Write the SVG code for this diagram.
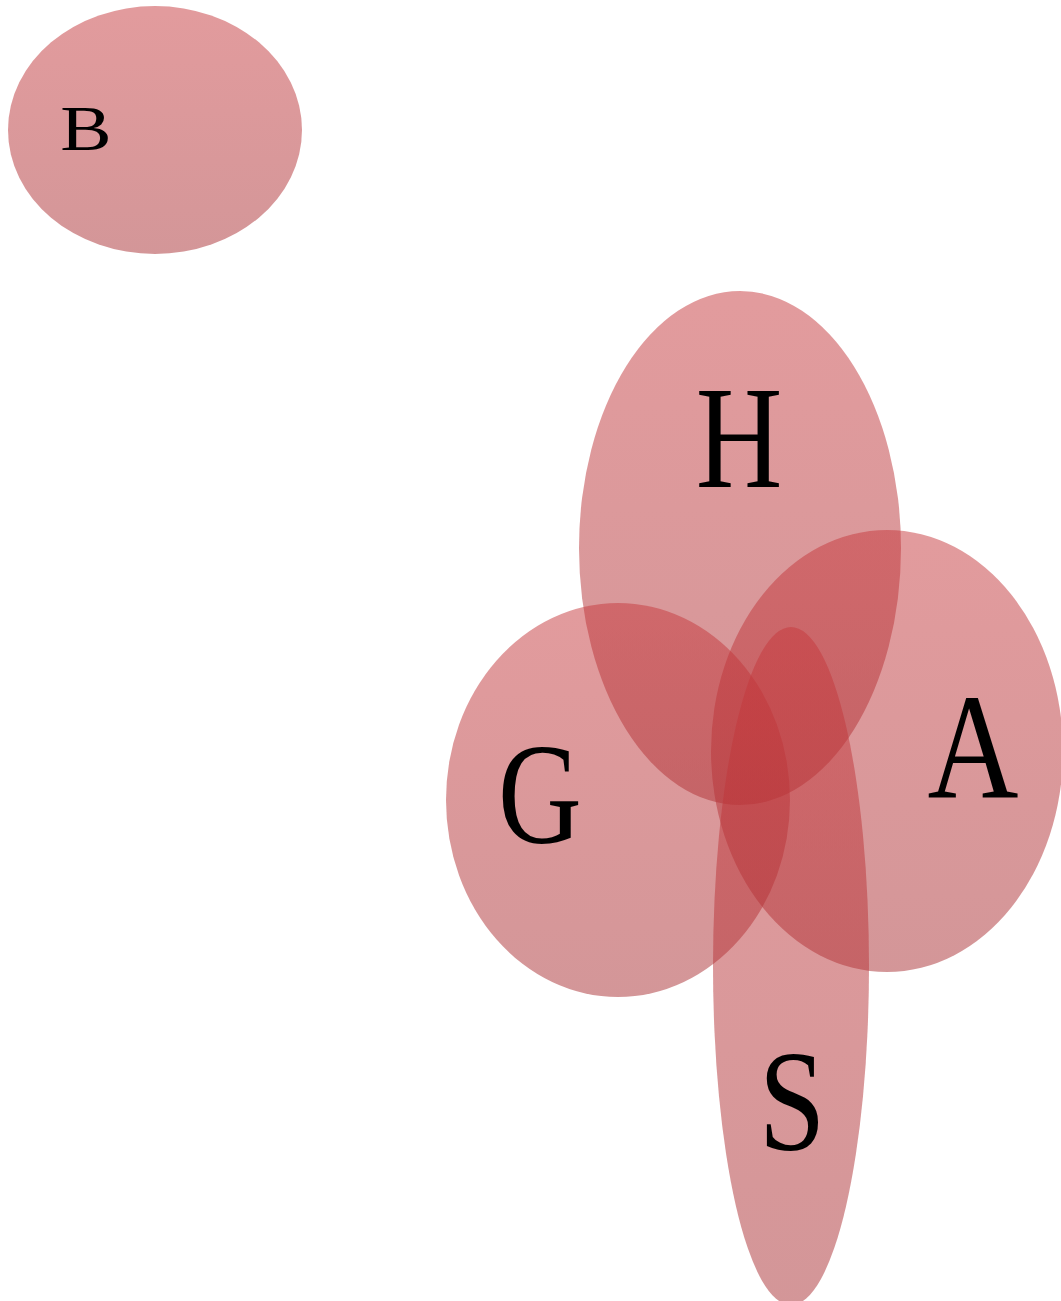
<svg xmlns="http://www.w3.org/2000/svg" width="1061" height="1301" viewBox="0 0 1061 1301">
<defs>
<linearGradient id="fillGrad" x1="0" y1="0" x2="0" y2="1">
<stop offset="0" stop-color="rgb(198,56,60)"/>
<stop offset="1" stop-color="rgb(168,46,50)"/>
</linearGradient>
</defs>
<style>
.set{fill:url(#fillGrad);fill-opacity:0.5;stroke:none}
.lbl{font-family:'Liberation Serif',serif;fill:#000;text-anchor:middle}
</style>
<rect width="1061" height="1301" fill="#fff"/>
<g id="B"><ellipse class="set" cx="155" cy="130" rx="147" ry="124"/>
<text class="lbl" font-family="Liberation Serif" font-size="70" transform="translate(86,150) scale(1.1,0.92)">B</text></g>
<g id="H"><ellipse class="set" cx="740" cy="548" rx="161" ry="257"/>
<text class="lbl" font-family="Liberation Serif" font-size="120" transform="translate(739,487) scale(1,1.22)">H</text></g>
<g id="A"><ellipse class="set" cx="887" cy="751" rx="176" ry="221"/>
<text class="lbl" font-family="Liberation Serif" font-size="126" transform="translate(973,797) scale(1,1.2)">A</text></g>
<g id="G"><ellipse class="set" cx="618" cy="800" rx="172" ry="197"/>
<text class="lbl" font-family="Liberation Serif" font-size="116" transform="translate(540,843) scale(1,1.24)">G</text></g>
<g id="S"><ellipse class="set" cx="791" cy="966" rx="78" ry="339"/>
<text class="lbl" font-family="Liberation Serif" font-size="120" transform="translate(792,1150) scale(1,1.2)">S</text></g>
<g id="connectors"></g>
</svg>
